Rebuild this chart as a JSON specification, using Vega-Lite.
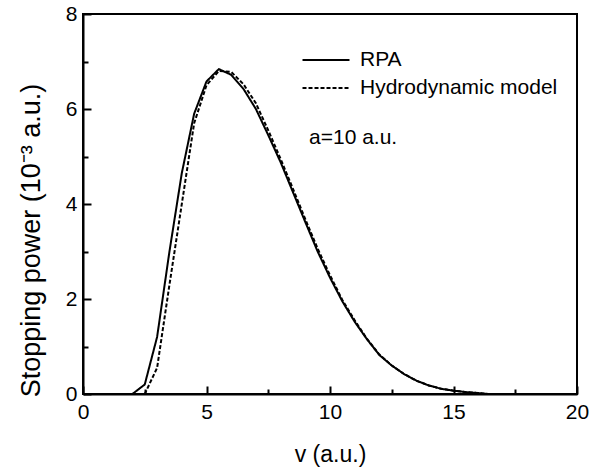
{
  "$schema": "https://vega.github.io/schema/vega-lite/v6.json",
  "autosize": {"type": "none"},
  "padding": {"left": 83, "top": 14, "right": 29, "bottom": 74},
  "width": 494,
  "height": 380,
  "background": "white",
  "config": {
    "font": "Liberation Sans",
    "view": {"stroke": "black", "strokeWidth": 2},
    "axis": {
      "domain": true,
      "domainColor": "black",
      "domainWidth": 2,
      "tickColor": "black",
      "tickWidth": 2,
      "grid": false,
      "labelFlush": false,
      "labelOverlap": false,
      "labelFont": "Liberation Sans",
      "labelFontSize": 21,
      "labelColor": "black",
      "titleFont": "Liberation Sans",
      "titleFontWeight": "normal",
      "titleColor": "black"
    }
  },
  "data": {
    "values": [
      {"v": 2.0, "s": 0, "model": "RPA"},
      {"v": 2.5, "s": 0.2, "model": "RPA"},
      {"v": 3.0, "s": 1.2, "model": "RPA"},
      {"v": 3.5, "s": 3.0, "model": "RPA"},
      {"v": 4.0, "s": 4.65, "model": "RPA"},
      {"v": 4.5, "s": 5.9, "model": "RPA"},
      {"v": 5.0, "s": 6.58, "model": "RPA"},
      {"v": 5.5, "s": 6.84, "model": "RPA"},
      {"v": 6.0, "s": 6.72, "model": "RPA"},
      {"v": 6.5, "s": 6.42, "model": "RPA"},
      {"v": 7.0, "s": 6.0, "model": "RPA"},
      {"v": 7.5, "s": 5.45, "model": "RPA"},
      {"v": 8.0, "s": 4.88, "model": "RPA"},
      {"v": 8.5, "s": 4.25, "model": "RPA"},
      {"v": 9.0, "s": 3.62, "model": "RPA"},
      {"v": 9.5, "s": 3.0, "model": "RPA"},
      {"v": 10.0, "s": 2.45, "model": "RPA"},
      {"v": 10.5, "s": 1.95, "model": "RPA"},
      {"v": 11.0, "s": 1.52, "model": "RPA"},
      {"v": 11.5, "s": 1.15, "model": "RPA"},
      {"v": 12.0, "s": 0.82, "model": "RPA"},
      {"v": 12.5, "s": 0.6, "model": "RPA"},
      {"v": 13.0, "s": 0.42, "model": "RPA"},
      {"v": 13.5, "s": 0.28, "model": "RPA"},
      {"v": 14.0, "s": 0.18, "model": "RPA"},
      {"v": 14.5, "s": 0.11, "model": "RPA"},
      {"v": 15.0, "s": 0.07, "model": "RPA"},
      {"v": 15.5, "s": 0.04, "model": "RPA"},
      {"v": 16.0, "s": 0.02, "model": "RPA"},
      {"v": 16.4, "s": 0.0, "model": "RPA"},
      {"v": 2.5, "s": 0, "model": "Hydrodynamic model"},
      {"v": 3.0, "s": 0.55, "model": "Hydrodynamic model"},
      {"v": 3.5, "s": 2.3, "model": "Hydrodynamic model"},
      {"v": 4.0, "s": 4.0, "model": "Hydrodynamic model"},
      {"v": 4.5, "s": 5.7, "model": "Hydrodynamic model"},
      {"v": 5.0, "s": 6.5, "model": "Hydrodynamic model"},
      {"v": 5.5, "s": 6.8, "model": "Hydrodynamic model"},
      {"v": 6.0, "s": 6.78, "model": "Hydrodynamic model"},
      {"v": 6.5, "s": 6.52, "model": "Hydrodynamic model"},
      {"v": 7.0, "s": 6.12, "model": "Hydrodynamic model"},
      {"v": 7.5, "s": 5.55, "model": "Hydrodynamic model"},
      {"v": 8.0, "s": 4.95, "model": "Hydrodynamic model"},
      {"v": 8.5, "s": 4.32, "model": "Hydrodynamic model"},
      {"v": 9.0, "s": 3.68, "model": "Hydrodynamic model"},
      {"v": 9.5, "s": 3.06, "model": "Hydrodynamic model"},
      {"v": 10.0, "s": 2.5, "model": "Hydrodynamic model"},
      {"v": 10.5, "s": 1.98, "model": "Hydrodynamic model"},
      {"v": 11.0, "s": 1.55, "model": "Hydrodynamic model"},
      {"v": 11.5, "s": 1.16, "model": "Hydrodynamic model"},
      {"v": 12.0, "s": 0.83, "model": "Hydrodynamic model"},
      {"v": 12.5, "s": 0.6, "model": "Hydrodynamic model"},
      {"v": 13.0, "s": 0.42, "model": "Hydrodynamic model"},
      {"v": 13.5, "s": 0.28, "model": "Hydrodynamic model"},
      {"v": 14.0, "s": 0.18, "model": "Hydrodynamic model"},
      {"v": 14.5, "s": 0.11, "model": "Hydrodynamic model"},
      {"v": 15.0, "s": 0.07, "model": "Hydrodynamic model"},
      {"v": 15.5, "s": 0.04, "model": "Hydrodynamic model"},
      {"v": 16.0, "s": 0.02, "model": "Hydrodynamic model"},
      {"v": 16.4, "s": 0.0, "model": "Hydrodynamic model"}
    ]
  },
  "layer": [
    {
      "mark": {"type": "line", "color": "black", "strokeWidth": 2, "clip": true},
      "encoding": {
        "x": {
          "field": "v", "type": "quantitative",
          "scale": {"domain": [0, 20], "nice": false},
          "axis": {
            "title": "v (a.u.)",
            "titleFontSize": 23,
            "values": [0, 2.5, 5, 7.5, 10, 12.5, 15, 17.5, 20],
            "labelExpr": "datum.value % 5 === 0 ? datum.label : ''",
            "tickSize": {"condition": {"test": "datum.value % 5 === 0", "value": -8}, "value": -5},
            "labelPadding": 15,
            "titlePadding": 18
          }
        },
        "y": {
          "field": "s", "type": "quantitative",
          "scale": {"domain": [0, 8], "nice": false},
          "axis": {
            "title": "Stopping power (10⁻³  a.u.)",
            "titleFontSize": 27,
            "titleY": 226,
            "titleAlign": "center",
            "values": [0, 1, 2, 3, 4, 5, 6, 7, 8],
            "labelExpr": "datum.value % 2 === 0 ? datum.label : ''",
            "tickSize": {"condition": {"test": "datum.value % 2 === 0", "value": -8}, "value": -5},
            "labelPadding": 14,
            "titlePadding": 20
          }
        },
        "strokeDash": {
          "field": "model", "type": "nominal",
          "scale": {"domain": ["RPA", "Hydrodynamic model"], "range": [[1, 0], [4, 2]]},
          "legend": {
            "title": null,
            "orient": "none",
            "legendX": 230,
            "legendY": 33,
            "symbolType": "M-2,0H2",
            "symbolSize": 552,
            "symbolStrokeWidth": 2,
            "symbolStrokeColor": "black",
            "symbolFillColor": "transparent",
            "labelFontSize": 21,
            "labelFont": "Liberation Sans",
            "labelColor": "black",
            "labelLimit": 400,
            "rowPadding": 5,
            "labelOffset": 21,
            "padding": 0
          }
        }
      }
    },
    {
      "data": {"values": [{"v": 9.15, "s": 5.39, "label": "a=10 a.u."}]},
      "mark": {"type": "text", "align": "left", "baseline": "middle", "fontSize": 21, "font": "Liberation Sans", "color": "black"},
      "encoding": {
        "x": {"field": "v", "type": "quantitative"},
        "y": {"field": "s", "type": "quantitative"},
        "text": {"field": "label"}
      }
    }
  ]
}
